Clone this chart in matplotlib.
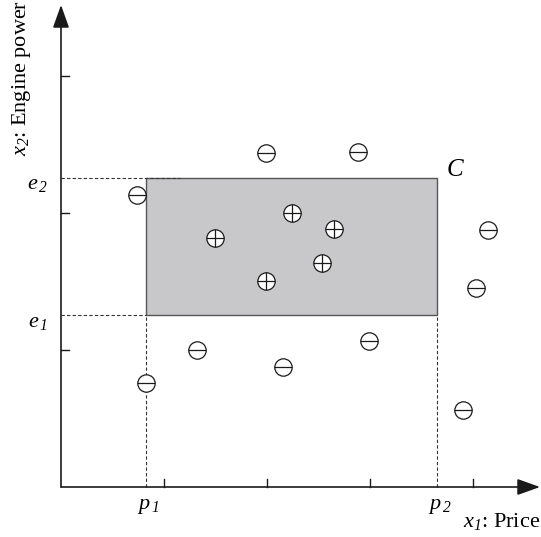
import matplotlib
matplotlib.use("Agg")
import matplotlib.pyplot as plt
from matplotlib.patches import Rectangle

plt.rcParams['font.family'] = ['Liberation Serif', 'DejaVu Serif']
plt.rcParams['mathtext.fontset'] = 'custom'
plt.rcParams['mathtext.rm'] = 'Liberation Serif:italic'
plt.rcParams['mathtext.it'] = 'Liberation Serif:italic'

# Data (axis units)
minus_x = [1.990, 2.883, 0.741, 4.149, 4.026, 1.323, 2.987, 2.155, 0.822, 3.906]
minus_y = [2.440, 2.442, 2.131, 1.876, 1.450, 1.002, 1.066, 0.878, 0.757, 0.562]
plus_x = [1.492, 2.240, 2.653, 2.531, 1.990]
plus_y = [1.815, 2.002, 1.881, 1.633, 1.506]
p1, p2 = 0.825, 3.650
e1, e2 = 1.255, 2.255
x_ticks = [1, 2, 3, 4]
y_ticks = [1, 2, 3]

fig = plt.figure(figsize=(5.41, 5.37), dpi=100)
ax = fig.add_axes([0, 0, 1, 1])
ax.set_xlim(-61 / 103, (541 - 61) / 103)
ax.set_ylim((487 - 537) / 137, 487 / 137)
ax.axis('off')

# Concept rectangle C
ax.add_patch(Rectangle((p1, e1), p2 - p1, e2 - e1, facecolor='#c8c8ca',
                       edgecolor='#555555', linewidth=1.0, zorder=1))

# dashed guide lines
dash = dict(color='#333333', linewidth=0.8, linestyle=(0, (3, 2)), zorder=2)
ax.plot([0, 1.155], [e2, e2], **dash)
ax.plot([0, p1], [e1, e1], **dash)
ax.plot([p1, p1], [0, e1], **dash)
ax.plot([p2, p2], [0, e1], **dash)

# axes with arrows
x_tip = (540 - 61) / 103
y_tip = (487 - 5) / 137
arrow_kw = dict(arrowstyle='-|>,head_length=14,head_width=5', mutation_scale=1,
                color='#1a1a1a', linewidth=1.2, shrinkA=0, shrinkB=0)
ax.annotate('', xy=(x_tip, 0), xytext=(0, 0), arrowprops=arrow_kw, zorder=3)
ax.annotate('', xy=(0, y_tip), xytext=(0, 0), arrowprops=arrow_kw, zorder=3)

# ticks
tick_len_x = 8 / 137
tick_len_y = 8 / 103
for t in x_ticks:
    ax.plot([t, t], [0, tick_len_x], color='#1a1a1a', linewidth=1.0, zorder=3)
for t in y_ticks:
    ax.plot([0, tick_len_y], [t, t], color='#1a1a1a', linewidth=1.0, zorder=3)

# examples
ms = 12.5
ax.plot(minus_x, minus_y, 'o', ms=ms, mfc='white', mec='#1a1a1a', mew=0.9, zorder=4)
ax.plot(minus_x, minus_y, '_', ms=ms, mec='#1a1a1a', mew=0.9, zorder=5)
ax.plot(plus_x, plus_y, 'o', ms=ms, mfc='white', mec='#1a1a1a', mew=0.9, zorder=4)
ax.plot(plus_x, plus_y, '_', ms=ms, mec='#1a1a1a', mew=0.9, zorder=5)
ax.plot(plus_x, plus_y, '|', ms=ms, mec='#1a1a1a', mew=0.9, zorder=5)

fs = 16
ax.text((455 - 61) / 103, (487 - 170) / 137, r'$C$', fontsize=18, ha='center', va='center')
ax.text((38 - 61) / 103, (487 - 185) / 137, r'$e_{\,2}$', fontsize=fs, ha='center', va='center')
ax.text((38 - 61) / 103, (487 - 322) / 137, r'$e_{\,1}$', fontsize=fs, ha='center', va='center')
ax.text((148 - 61) / 103, (487 - 507) / 137, r'$p_{\,1}$', fontsize=fs, ha='center', va='center')
ax.text((440 - 61) / 103, (487 - 507) / 137, r'$p_{\,2}$', fontsize=fs, ha='center', va='center')
ax.text((540 - 61) / 103, (487 - 522) / 137, r'$x_{1}$: Price', fontsize=fs,
        ha='right', va='center')
ax.text((22 - 61) / 103, (487 - 78) / 137, r'$x_{2}$: Engine power', fontsize=fs,
        ha='center', va='center', rotation=90)

fig.savefig('out.png', dpi=100)
